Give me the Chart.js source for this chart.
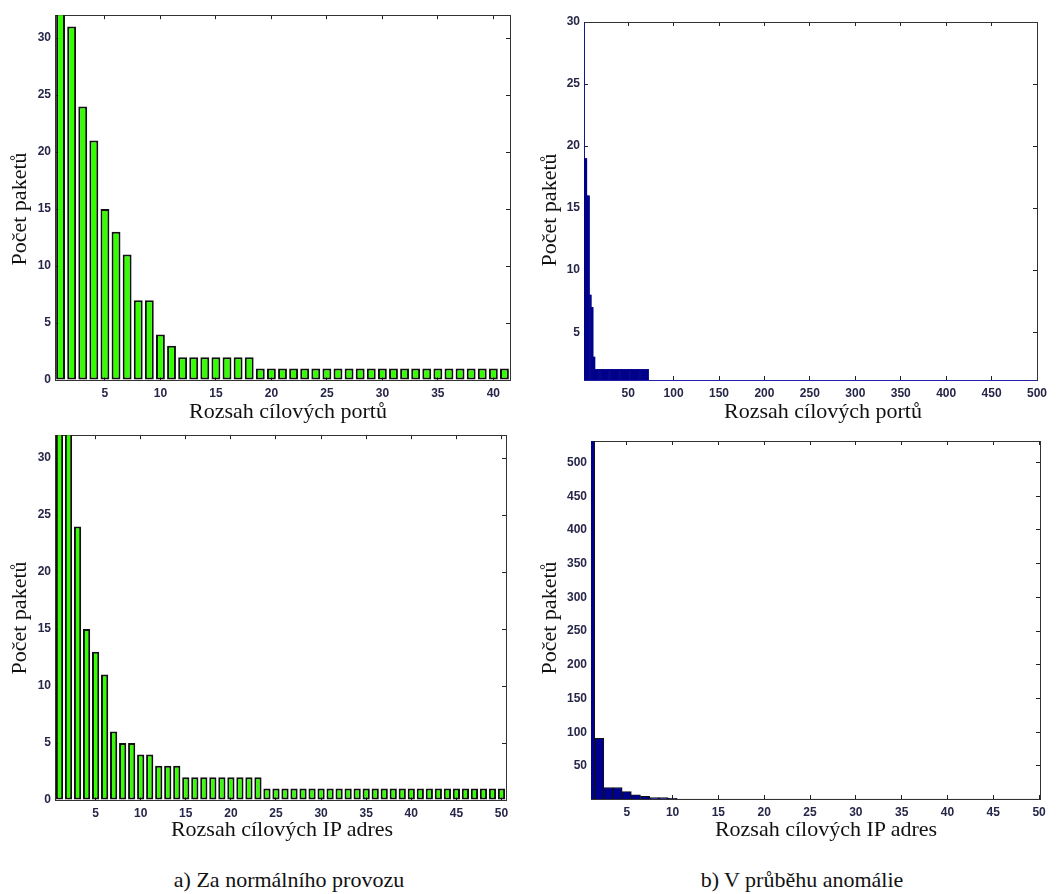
<!DOCTYPE html>
<html>
<head>
<meta charset="utf-8">
<script src="https://cdn.jsdelivr.net/npm/chart.js@4.4.1/dist/chart.umd.min.js"></script>
<style>
  body { margin: 0; background: #fff; }
  #page { position: relative; width: 1059px; height: 894px; overflow: hidden; color: #111; }
  canvas { position: absolute; }
  .lbl { position: absolute; white-space: nowrap; font-family: "Liberation Serif", "DejaVu Serif", serif;
         font-size: 22px; line-height: 1; }
  .xt { transform: translate(-50%, -50%); }
  .yt { transform: translate(-50%, -50%) rotate(-90deg); }
</style>
</head>
<body>
<div id="page">
  <canvas id="p1" width="530" height="420" style="left:0;top:0"></canvas>
  <canvas id="p2" width="529" height="420" style="left:530px;top:0"></canvas>
  <canvas id="p3" width="530" height="420" style="left:0;top:420px"></canvas>
  <canvas id="p4" width="529" height="420" style="left:530px;top:420px"></canvas>

  <div class="lbl yt" style="left:19px;top:209px">Po&#269;et paket&#367;</div>
  <div class="lbl yt" style="left:549px;top:210px">Po&#269;et paket&#367;</div>
  <div class="lbl yt" style="left:19px;top:618px">Po&#269;et paket&#367;</div>
  <div class="lbl yt" style="left:549px;top:618px">Po&#269;et paket&#367;</div>

  <div class="lbl xt" style="left:288px;top:411px">Rozsah c&#237;lov&#253;ch port&#367;</div>
  <div class="lbl xt" style="left:823px;top:411px">Rozsah c&#237;lov&#253;ch port&#367;</div>
  <div class="lbl xt" style="left:282px;top:829px">Rozsah c&#237;lov&#253;ch IP adres</div>
  <div class="lbl xt" style="left:826px;top:829px">Rozsah c&#237;lov&#253;ch IP adres</div>

  <div class="lbl xt" style="left:289px;top:880px">a) Za norm&#225;ln&#237;ho provozu</div>
  <div class="lbl xt" style="left:802px;top:880px">b) V pr&#367;b&#283;hu anom&#225;lie</div>
</div>
<script>
// a) normal traffic, destination ports 1..41 (first bar runs off the top)
const normalPortCounts = [36, 31, 24, 21, 15, 13, 11, 7, 7, 4, 3,
  2, 2, 2, 2, 2, 2, 2,
  1, 1, 1, 1, 1, 1, 1, 1, 1, 1, 1, 1, 1, 1, 1, 1, 1, 1, 1, 1, 1, 1, 1];
const normalPortTicks = [5, 10, 15, 20, 25, 30, 35, 40];

// a) normal traffic, destination IPs 1..50
const normalIpCounts = [36, 35, 24, 15, 13, 11, 6, 5, 5, 4, 4, 3, 3, 3,
  2, 2, 2, 2, 2, 2, 2, 2, 2,
  1, 1, 1, 1, 1, 1, 1, 1, 1, 1, 1, 1, 1, 1, 1, 1, 1, 1, 1, 1, 1, 1, 1, 1, 1, 1, 1];
const normalIpTicks = [5, 10, 15, 20, 25, 30, 35, 40, 45, 50];
const normalCountTicks = [0, 5, 10, 15, 20, 25, 30];

// b) anomaly, destination ports 1..500, read as runs (start port, count)
const anomalyPortRunStart = [1, 2, 5, 8, 10, 12, 14, 73];
const anomalyPortRunValue = [40, 19, 16, 8, 7, 3, 2, 1];
const anomalyPortLast = 500;
const anomalyPortTicks = [50, 100, 150, 200, 250, 300, 350, 400, 450, 500];
const anomalyPortCountTicks = [5, 10, 15, 20, 25, 30];

// b) anomaly, destination IPs 1..50 (first bar runs off the top)
const anomalyIpCounts = [600, 91, 18, 18, 12, 7, 5, 3, 3, 2,
  1, 1, 1, 1, 1, 1, 1, 1, 1, 1, 1, 1, 1, 1, 1, 1, 1, 1, 1, 1,
  1, 1, 1, 1, 1, 1, 1, 1, 1, 1, 1, 1, 1, 1, 1, 1, 1, 1, 1, 1];
const anomalyIpTicks = [5, 10, 15, 20, 25, 30, 35, 40, 45, 50];
const anomalyIpCountTicks = [50, 100, 150, 200, 250, 300, 350, 400, 450, 500];

// expand the runs into one value per port
const anomalyPortCounts = [];
anomalyPortRunStart.forEach((start, i) => {
  const end = i + 1 < anomalyPortRunStart.length ? anomalyPortRunStart[i + 1] - 1 : anomalyPortLast;
  for (let p = start; p <= end; p++) anomalyPortCounts.push({ x: p, y: anomalyPortRunValue[i] });
});

const tickFont = { family: 'Liberation Sans, Arial, sans-serif', size: 12, weight: 'bold' };
const tickColor = '#262648';

function axis(pos, min, max, ticks, size, showLabels, borderColor) {
  return {
    type: 'linear', position: pos, min: min, max: max, bounds: 'data',
    offset: false,
    afterBuildTicks: s => { s.ticks = ticks.map(v => ({ value: v })); },
    afterFit: s => { if (pos === 'left' || pos === 'right') s.width = size; else s.height = size; },
    ticks: { display: showLabels, autoSkip: false, maxRotation: 0, font: tickFont, color: tickColor,
             padding: pos === 'left' ? 8 : 10 },
    grid: { offset: false, drawOnChartArea: false, tickLength: -4, color: '#222', lineWidth: 1 },
    border: { color: borderColor || '#333', width: 1 }
  };
}

// box = canvas rect, area = plot rect, both in page coordinates
function panel(id, box, area, data, x, y, style) {
  new Chart(document.getElementById(id), {
    type: 'bar',
    data: { datasets: [Object.assign({ data: data, clip: 0, categoryPercentage: 1, borderSkipped: false }, style)] },
    options: {
      responsive: false, animation: false,
      layout: { padding: 0 },
      plugins: { legend: { display: false }, tooltip: { enabled: false } },
      scales: {
        x: axis('bottom', x.min, x.max, x.ticks, box.t + box.h - area.b, true, x.border),
        y: axis('left', y.min, y.max, y.ticks, area.l - box.l, true, y.border),
        x2: axis('top', x.min, x.max, x.ticks, area.t - box.t, false),
        y2: axis('right', y.min, y.max, y.ticks, box.l + box.w - area.r, false)
      }
    }
  });
}

const toPoints = arr => arr.map((v, i) => ({ x: i + 1, y: v }));
const greenBars = { backgroundColor: '#33ff00', borderColor: '#111', borderWidth: 2, barPercentage: 0.8 };

panel('p1', { l: 0, t: 0, w: 530, h: 420 }, { l: 55, t: 12, r: 510, b: 380 },
  toPoints(normalPortCounts),
  { min: 0.5, max: 41.5, ticks: normalPortTicks },
  { min: 0, max: 32, ticks: normalCountTicks }, greenBars);

panel('p2', { l: 530, t: 0, w: 529, h: 420 }, { l: 584, t: 22, r: 1037, b: 380 },
  anomalyPortCounts,
  { min: 1.4, max: 500, ticks: anomalyPortTicks, border: '#2222a8' },
  { min: 1.15, max: 30, ticks: anomalyPortCountTicks, border: '#2222a8' },
  { backgroundColor: '#00008b', borderWidth: 0, barPercentage: 1 });

panel('p3', { l: 0, t: 420, w: 530, h: 420 }, { l: 55, t: 432, r: 506, b: 800 },
  toPoints(normalIpCounts),
  { min: 0.5, max: 50.5, ticks: normalIpTicks },
  { min: 0, max: 32, ticks: normalCountTicks }, greenBars);

panel('p4', { l: 530, t: 420, w: 529, h: 420 }, { l: 591, t: 441, r: 1040, b: 799 },
  toPoints(anomalyIpCounts),
  { min: 1.1, max: 50.1, ticks: anomalyIpTicks },
  { min: 1, max: 532, ticks: anomalyIpCountTicks },
  { backgroundColor: '#000090', borderColor: '#111', borderWidth: 1, barPercentage: 1 });
</script>
</body>
</html>
